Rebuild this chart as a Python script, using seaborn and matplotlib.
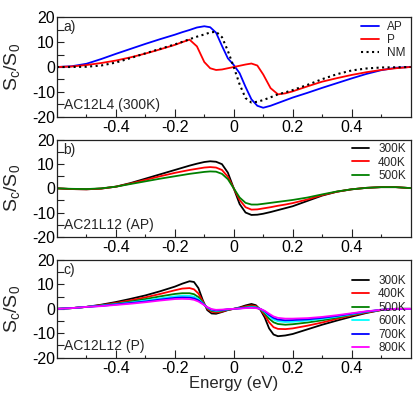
import numpy as np
import pandas as pd
import matplotlib
matplotlib.use("Agg")
import matplotlib.pyplot as plt
import seaborn as sns

# ---------------- data ----------------
xa = [-0.6, -0.55, -0.5, -0.45, -0.4, -0.35, -0.3, -0.25, -0.2, -0.175, -0.15, -0.125,
      -0.1, -0.08, -0.06, -0.04, -0.02, 0.0, 0.02, 0.04, 0.06, 0.08, 0.1, 0.125, 0.15,
      0.175, 0.2, 0.25, 0.3, 0.35, 0.4, 0.45, 0.5, 0.55, 0.6]
a_AP = [0.0, 0.3, 1.3, 3.2, 5.3, 7.3, 9.3, 11.2, 13.0, 14.0, 14.9, 15.9,
        16.4, 16.0, 13.8, 8.5, 3.5, 0.8, -2.5, -8.0, -13.0, -15.6, -16.4, -15.6, -14.5,
        -13.4, -12.3, -10.4, -8.4, -6.5, -4.6, -2.8, -1.3, -0.3, 0.0]
a_P = [0.0, 0.2, 0.8, 1.6, 2.6, 3.9, 5.4, 7.1, 8.9, 10.0, 11.0, 8.3,
       2.0, -0.5, -1.2, -1.0, -0.5, 0.0, 0.5, 1.0, 1.4, 0.6, -3.0, -8.5, -11.0,
       -10.6, -9.8, -7.8, -5.9, -4.5, -3.2, -2.1, -1.2, -0.5, 0.0]
a_NM = [0.0, 0.0, 0.1, 0.6, 1.8, 3.6, 5.5, 7.3, 9.1, 10.1, 11.2, 12.2,
        13.1, 13.9, 14.2, 12.0, 6.5, 0.0, -7.0, -12.5, -14.3, -14.0, -13.3, -12.2, -11.0,
        -10.2, -9.3, -7.2, -4.9, -2.9, -1.4, -0.6, -0.2, -0.1, 0.0]

xb = xa
b_300 = [0.0, -0.3, -0.4, -0.1, 0.7, 2.2, 4.0, 5.8, 7.6, 8.5, 9.4, 10.2,
         10.9, 11.2, 11.0, 10.0, 6.5, 0.0, -6.5, -10.0, -11.0, -10.9, -10.5, -9.8, -9.0,
         -8.2, -7.4, -5.2, -3.0, -1.4, -0.4, 0.2, 0.5, 0.5, 0.1]
b_400 = [0.0, -0.3, -0.4, -0.1, 0.7, 2.0, 3.5, 5.0, 6.4, 7.0, 7.6, 8.1,
         8.6, 8.8, 8.6, 7.6, 4.8, 0.0, -4.8, -7.8, -8.8, -8.7, -8.3, -7.8, -7.2,
         -6.7, -6.1, -4.6, -2.8, -1.4, -0.4, 0.2, 0.5, 0.5, 0.1]
b_500 = [0.0, -0.2, -0.3, 0.0, 0.7, 1.8, 2.9, 4.0, 5.0, 5.5, 6.0, 6.4,
         6.8, 7.0, 6.9, 6.0, 3.8, 0.0, -3.8, -6.0, -6.7, -6.7, -6.4, -6.0, -5.6,
         -5.2, -4.8, -3.8, -2.5, -1.3, -0.4, 0.2, 0.5, 0.5, 0.1]

xc = [-0.6, -0.55, -0.5, -0.45, -0.4, -0.35, -0.3, -0.25, -0.2, -0.175, -0.15, -0.135,
      -0.12, -0.105, -0.09, -0.075, -0.06, -0.04, -0.02, 0.0, 0.02, 0.04, 0.06, 0.075,
      0.09, 0.105, 0.12, 0.135, 0.15, 0.175, 0.2, 0.25, 0.3, 0.35, 0.4, 0.45, 0.5, 0.55, 0.6]
c_300 = [0.0, 0.3, 0.8, 1.7, 2.8, 4.1, 5.5, 7.2, 9.1, 10.3, 11.3, 11.0,
         8.5, 3.5, -0.5, -1.9, -2.0, -1.3, -0.5, 0.0, 0.6, 1.4, 2.0, 1.5,
         -0.3, -3.5, -8.0, -10.5, -11.2, -10.9, -10.3, -8.4, -6.5, -4.8, -3.2, -1.7, -0.5, 0.0, 0.0]
c_400 = [0.0, 0.3, 0.8, 1.5, 2.4, 3.5, 4.7, 6.1, 7.6, 8.3, 8.5, 8.0,
         6.3, 3.0, 0.0, -1.2, -1.5, -1.1, -0.4, 0.0, 0.4, 1.0, 1.4, 1.1,
         -0.2, -2.5, -5.5, -7.5, -8.2, -8.3, -8.0, -6.9, -5.6, -4.1, -2.7, -1.5, -0.5, 0.0, 0.0]
c_500 = [0.0, 0.3, 0.8, 1.4, 2.1, 3.0, 4.0, 5.1, 6.1, 6.4, 6.4, 6.0,
         4.8, 2.6, 0.3, -0.8, -1.1, -0.8, -0.3, 0.0, 0.3, 0.7, 1.0, 0.8,
         -0.1, -1.8, -4.0, -5.5, -6.2, -6.5, -6.3, -5.6, -4.7, -3.6, -2.4, -1.3, -0.4, 0.0, 0.0]
c_600 = [0.0, 0.3, 0.8, 1.3, 1.9, 2.6, 3.4, 4.3, 5.1, 5.4, 5.3, 5.0,
         4.0, 2.3, 0.5, -0.5, -0.8, -0.6, -0.2, 0.0, 0.2, 0.5, 0.7, 0.6,
         0.0, -1.3, -3.0, -4.4, -5.1, -5.4, -5.3, -4.8, -4.1, -3.2, -2.2, -1.2, -0.4, 0.0, 0.0]
c_700 = [0.0, 0.3, 0.8, 1.2, 1.8, 2.4, 3.0, 3.8, 4.5, 4.7, 4.6, 4.3,
         3.5, 2.1, 0.6, -0.3, -0.6, -0.5, -0.2, 0.0, 0.2, 0.4, 0.5, 0.4,
         0.0, -1.0, -2.5, -3.7, -4.4, -4.7, -4.6, -4.3, -3.7, -2.9, -2.0, -1.1, -0.4, 0.0, 0.0]
c_800 = [0.0, 0.3, 0.8, 1.1, 1.6, 2.1, 2.7, 3.4, 4.0, 4.1, 4.0, 3.7,
         3.0, 1.9, 0.7, -0.1, -0.4, -0.3, -0.1, 0.0, 0.1, 0.3, 0.4, 0.3,
         0.0, -0.8, -2.0, -3.1, -3.7, -4.0, -4.0, -3.8, -3.3, -2.6, -1.8, -1.0, -0.4, 0.0, 0.0]

xticks = [-0.4, -0.2, 0.0, 0.2, 0.4]
xticklabels = ["-0.4", "-0.2", "0", "0.2", "0.4"]
yticks = [-20, -10, 0, 10, 20]
yticklabels = ["-20", "-10", "0", "10", "20"]

# ---------------- style ----------------
sns.set_style("ticks")
plt.rcParams["font.family"] = ["Liberation Sans", "DejaVu Sans"]
plt.rcParams["mathtext.fontset"] = "custom"
plt.rcParams["mathtext.rm"] = "Liberation Sans"

fig = plt.figure(figsize=(4.16, 3.99), dpi=100)
L, W = 57 / 416, 353.5 / 416
ax_a = fig.add_axes([L, 1 - 116.7 / 399, W, 99.4 / 399])
ax_b = fig.add_axes([L, 1 - 236.7 / 399, W, 96.7 / 399])
ax_c = fig.add_axes([L, 1 - 357.7 / 399, W, 97.7 / 399])

LW = 1.3


def draw(ax, x, series, colors, labels, styles=None):
    for i, (y, c, lab) in enumerate(zip(series, colors, labels)):
        df = pd.DataFrame({"E": x, "S": y})
        ls = styles[i] if styles else "-"
        sns.lineplot(data=df, x="E", y="S", ax=ax, color=c, lw=LW if ls == "-" else 1.5,
                     linestyle=ls, label=lab, estimator=None, sort=False)


draw(ax_a, xa, [a_AP, a_P, a_NM], ["#0000ff", "#ff0000", "#000000"], ["AP", "P", "NM"],
     ["-", "-", ":"])
draw(ax_b, xb, [b_300, b_400, b_500], ["#000000", "#ff0000", "#008000"],
     ["300K", "400K", "500K"])
draw(ax_c, xc, [c_300, c_400, c_500, c_600, c_700, c_800],
     ["#000000", "#ff0000", "#008000", "#00ffff", "#0000ff", "#ff00ff"],
     ["300K", "400K", "500K", "600K", "700K", "800K"])

panel_txt = [("a)", "AC12L4 (300K)"), ("b)", "AC21L12 (AP)"), ("c)", "AC12L12 (P)")]
for ax, (lt, nt) in zip([ax_a, ax_b, ax_c], panel_txt):
    ax.set_xlim(-0.6, 0.6)
    ax.set_ylim(-20, 20)
    ax.set_xticks(xticks)
    ax.set_xticklabels(xticklabels)
    ax.set_xticks([-0.5, -0.3, -0.1, 0.1, 0.3, 0.5], minor=True)
    ax.set_yticks(yticks)
    ax.set_yticklabels(yticklabels)
    ax.set_yticks([-15, -5, 5, 15], minor=True)
    ax.tick_params(axis="x", which="major", direction="in", length=5.8, width=0.8,
                   labelsize=11.5, pad=2.5, colors="#222222", labelcolor="black")
    ax.tick_params(axis="x", which="minor", direction="in", length=2.5, width=0.8,
                   colors="#222222")
    ax.tick_params(axis="y", which="both", direction="in", length=5, width=0.8,
                   labelsize=11.5, pad=1.5, colors="#222222", labelcolor="black")
    for s in ax.spines.values():
        s.set_linewidth(0.9)
        s.set_color("#222222")
        s.set_visible(True)
    ax.set_xlabel("")
    ax.set_ylabel(r"S$_\mathregular{c}$/S$_\mathregular{0}$", fontsize=14)
    ax.yaxis.set_label_coords(-0.095, 0.5)
    ax.text(0.017, 0.9, lt, transform=ax.transAxes, fontsize=10, va="center", ha="left")
    ax.text(0.02, 0.12, nt, transform=ax.transAxes, fontsize=10, va="center", ha="left")

for ax, anchor_y, ls in [(ax_a, 0.966, 0.09), (ax_b, 0.969, 0.13), (ax_c, 0.846, 0.12)]:
    ax.legend(loc="upper right", frameon=False, fontsize=8.5, handlelength=1.5,
              handletextpad=0.75, labelspacing=ls, borderaxespad=0.0, borderpad=0.0,
              bbox_to_anchor=(0.987, anchor_y))

ax_c.set_xlabel("Energy (eV)", fontsize=12, labelpad=0)

fig.savefig("out.png", dpi=100)
